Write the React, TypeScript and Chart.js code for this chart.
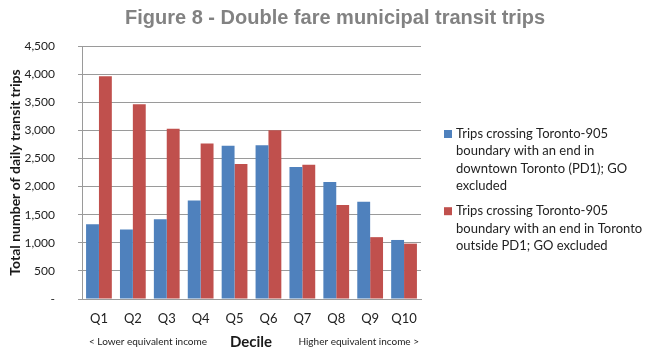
import React, { useEffect, useRef } from "react";
import { Chart, registerables } from "chart.js";

Chart.register(...registerables);

const categories = ["Q1", "Q2", "Q3", "Q4", "Q5", "Q6", "Q7", "Q8", "Q9", "Q10"];
const downtownTrips = [1330, 1235, 1420, 1750, 2725, 2735, 2350, 2080, 1730, 1050];
const outsidePd1Trips = [3960, 3465, 3030, 2765, 2400, 3000, 2390, 1670, 1100, 985];
const seriesLabels = [
  ["Trips crossing Toronto-905", "boundary with an end in", "downtown Toronto (PD1); GO", "excluded"],
  ["Trips crossing Toronto-905", "boundary with an end in Toronto", "outside PD1; GO excluded"],
];
const chartTitle = "Figure 8 - Double fare municipal transit trips";
const yTitle = "Total number of daily transit trips";
const xTitle = "Decile";
const lowNote = "< Lower equivalent income";
const highNote = "Higher equivalent income >";

const BODY = "Lato, 'Open Sans', sans-serif";

const decorPlugin = {
  id: "decor",
  afterDraw(chart: any) {
    const ctx = chart.ctx;
    const area = chart.chartArea;
    ctx.save();
    // title
    ctx.fillStyle = "#828282";
    ctx.font = "bold 20px 'Liberation Sans', Arial, sans-serif";
    ctx.textAlign = "center";
    ctx.textBaseline = "middle";
    ctx.fillText(chartTitle, 335, 18);

    // bottom texts
    ctx.fillStyle = "#1a1a1a";
    ctx.font = `bold 15px ${BODY}`;
    ctx.fillText(xTitle, 251, 342);
    ctx.font = `10px ${BODY}`;
    ctx.fillStyle = "#222";
    ctx.textAlign = "left";
    ctx.fillText(lowNote, 89, 342);
    ctx.textAlign = "right";
    ctx.fillText(highNote, area.right - 2, 342);

    // legend
    const ds = chart.data.datasets;
    let y = 134;
    ctx.textAlign = "left";
    ctx.font = `13px ${BODY}`;
    ds.forEach((d: any, i: number) => {
      ctx.fillStyle = d.backgroundColor;
      ctx.fillRect(444, y - 4, 8, 8);
      ctx.fillStyle = "#222";
      seriesLabels[i].forEach((line: string, j: number) => {
        ctx.fillText(line, 456, y + j * 17.3);
      });
      y += seriesLabels[i].length * 17.3 + 8;
    });
    ctx.restore();
  },
};

export default function App() {
  const ref = useRef<HTMLCanvasElement>(null);
  useEffect(() => {
    const chart = new Chart(ref.current!, {
      type: "bar",
      data: {
        labels: categories,
        datasets: [
          { label: seriesLabels[0].join(" "), data: downtownTrips, backgroundColor: "#4F81BD" },
          { label: seriesLabels[1].join(" "), data: outsidePd1Trips, backgroundColor: "#C0504D" },
        ],
      },
      options: {
        animation: false,
        responsive: false,
        maintainAspectRatio: false,
        layout: { padding: { top: 46, right: 239, left: 0, bottom: 0 } },
        plugins: { legend: { display: false }, title: { display: false }, tooltip: { enabled: false } },
        datasets: { bar: { categoryPercentage: 0.76, barPercentage: 1 } },
        scales: {
          x: {
            grid: { display: false, drawTicks: false },
            border: { display: true, color: "#9a9a9a", width: 1 },
            ticks: { color: "#222", font: { family: BODY, size: 13 }, padding: 12 },
            afterFit: (s: any) => { s.height = 60; },
          },
          y: {
            min: 0,
            max: 4500,
            ticks: {
              stepSize: 500,
              color: "#222",
              font: { family: BODY, size: 12 },
              padding: 23,
              callback: (v: any) => (v === 0 ? "-" : Number(v).toLocaleString("en-US")),
            },
            grid: { color: "#9a9a9a", tickLength: 4 },
            border: { display: true, color: "#9a9a9a" },
            title: { display: true, text: yTitle, color: "#1a1a1a", font: { family: BODY, size: 14, weight: "bold" }, padding: { top: 7, bottom: 0 } },
            afterFit: (s: any) => { s.width = 82; },
          },
        },
      },
      plugins: [decorPlugin],
    });
    return () => chart.destroy();
  }, []);
  return (
    <div style={{ position: "fixed", left: 0, top: 0, width: 660, height: 359, background: "#fff" }}>
      <canvas ref={ref} width={660} height={359} style={{ width: 660, height: 359 }} />
    </div>
  );
}
